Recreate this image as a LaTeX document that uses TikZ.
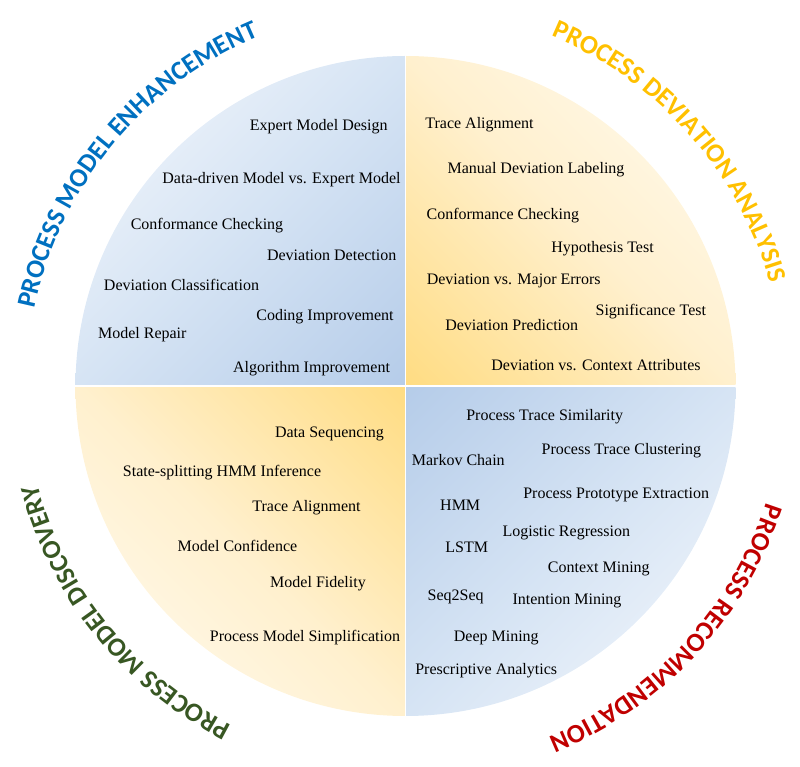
\documentclass[tikz,border=0pt]{standalone}
\usepackage{fontspec}
\setmainfont{Liberation Serif}
\newfontfamily\titlefont{Carlito}
\usetikzlibrary{decorations.text}
\definecolor{bluelight}{HTML}{F8FAFD}
\definecolor{bluemid}{HTML}{D6E4F4}
\definecolor{bluedark}{HTML}{B5CCE9}
\definecolor{yellowlight}{HTML}{FFFCF5}
\definecolor{yellowmid}{HTML}{FFF0CE}
\definecolor{yellowdark}{HTML}{FFDC82}
\definecolor{tblue}{HTML}{0070C0}
\definecolor{tgold}{HTML}{FFC000}
\definecolor{tgreen}{HTML}{385723}
\definecolor{tred}{HTML}{C00000}
\newcommand\titlefmt{\titlefont\bfseries\fontsize{26.5}{30}\selectfont}
\tikzset{
  lab/.style={font=\fontsize{16}{18}\selectfont, text height=11pt, text depth=3.5pt, inner sep=0pt},
  arctitle/.style 2 args={decorate, decoration={text along path, text align=center, text color=#2, text={|\titlefmt|#1}}},
  blueq/.style={bottom color=bluedark, top color=bluelight, middle color=bluemid},
  yellowq/.style={bottom color=yellowdark, top color=yellowlight, middle color=yellowmid}
}
\begin{document}
\begin{tikzpicture}[x=1pt,y=1pt]
\useasboundingbox (0,0) rectangle (800,766);
\coordinate (C) at (405.5,380);
% quadrants
\begin{scope}
\clip (C) circle[radius=330pt];
\clip (75.5,380) rectangle (405.5,710);
\begin{scope}[transform canvas={shift={(405.5pt,380pt)},rotate=45}]
\shade[blueq] (-340,0) rectangle (340,466.7);
\end{scope}
\end{scope}
\begin{scope}
\clip (C) circle[radius=330pt];
\clip (405.5,380) rectangle (735.5,710);
\begin{scope}[transform canvas={shift={(405.5pt,380pt)},rotate=-45}]
\shade[yellowq] (-340,0) rectangle (340,466.7);
\end{scope}
\end{scope}
\begin{scope}
\clip (C) circle[radius=330pt];
\clip (75.5,50) rectangle (405.5,380);
\begin{scope}[transform canvas={shift={(405.5pt,380pt)},rotate=135}]
\shade[yellowq] (-340,0) rectangle (340,466.7);
\end{scope}
\end{scope}
\begin{scope}
\clip (C) circle[radius=330pt];
\clip (405.5,50) rectangle (735.5,380);
\begin{scope}[transform canvas={shift={(405.5pt,380pt)},rotate=-135}]
\shade[blueq] (-340,0) rectangle (340,466.7);
\end{scope}
\end{scope}
\coordinate (gl) at (75,380);
\coordinate (gr) at (736,380);
\coordinate (gt) at (405.5,711);
\coordinate (gb) at (405.5,49);
\draw[white, line width=1.5pt] (gl) -- (gr);
\draw[white, line width=1.5pt] (gb) -- (gt);
% titles
\begin{scope}[shift={(C)}]
\path[arctitle={PROCESS MODEL ENHANCEMENT}{tblue}] (175.5:379pt) arc[start angle=175.5, end angle=105.5, radius=379pt];
\path[arctitle={PROCESS DEVIATION ANALYSIS}{tgold}] (76.6:379pt) arc[start angle=76.6, end angle=6.6, radius=379pt];
\path[arctitle={PROCESS MODEL DISCOVERY}{tgreen}] (253.9:381pt) arc[start angle=253.9, end angle=183.9, radius=381pt];
\path[arctitle={PROCESS RECOMMENDATION}{tred}] (-7.9:379pt) arc[start angle=-7.9, end angle=-77.9, radius=379pt];
\end{scope}
% top-left
\node[lab] (e1) at (318.7,639.3) {Expert Model Design};
\node[lab] (e2) at (281.5,586) {Data-driven Model vs. Expert Model};
\node[lab] (e3) at (207,540) {Conformance Checking};
\node[lab] (e4) at (331.7,509.3) {Deviation Detection};
\node[lab] (e5) at (181.5,479) {Deviation Classification};
\node[lab] (e6) at (325,449.3) {Coding Improvement};
\node[lab] (e7) at (142.3,431) {Model Repair};
\node[lab] (e8) at (311.5,397.7) {Algorithm Improvement};
% top-right
\node[lab] (d1) at (479.5,641.7) {Trace Alignment};
\node[lab] (d2) at (536,596) {Manual Deviation Labeling};
\node[lab] (d3) at (502.8,550) {Conformance Checking};
\node[lab] (d4) at (602.5,517.3) {Hypothesis Test};
\node[lab] (d5) at (513.7,485) {Deviation vs. Major Errors};
\node[lab] (d6) at (650.8,454.7) {Significance Test};
\node[lab] (d7) at (511.7,439.3) {Deviation Prediction};
\node[lab] (d8) at (596,399.3) {Deviation vs. Context Attributes};
% bottom-right
\node[lab] (r1) at (544.7,349.3) {Process Trace Similarity};
\node[lab] (r2) at (621.3,315.3) {Process Trace Clustering};
\node[lab] (r3) at (458.3,304.3) {Markov Chain};
\node[lab] (r4) at (616.2,271) {Process Prototype Extraction};
\node[lab] (r5) at (460.2,259.3) {HMM};
\node[lab] (r6) at (566.3,233.3) {Logistic Regression};
\node[lab] (r7) at (466.7,217.7) {LSTM};
\node[lab] (r8) at (598.8,197.7) {Context Mining};
\node[lab] (r9) at (455.7,169.3) {Seq2Seq};
\node[lab] (r10) at (567,165.3) {Intention Mining};
\node[lab] (r11) at (496.3,128.3) {Deep Mining};
\node[lab] (r12) at (486.2,95) {Prescriptive Analytics};
% bottom-left
\node[lab] (m1) at (329.5,332) {Data Sequencing};
\node[lab] (m2) at (222,293) {State-splitting HMM Inference};
\node[lab] (m3) at (306.5,258) {Trace Alignment};
\node[lab] (m4) at (237.5,218) {Model Confidence};
\node[lab] (m5) at (318,182) {Model Fidelity};
\node[lab] (m6) at (305,128) {Process Model Simplification};
\end{tikzpicture}
\end{document}
